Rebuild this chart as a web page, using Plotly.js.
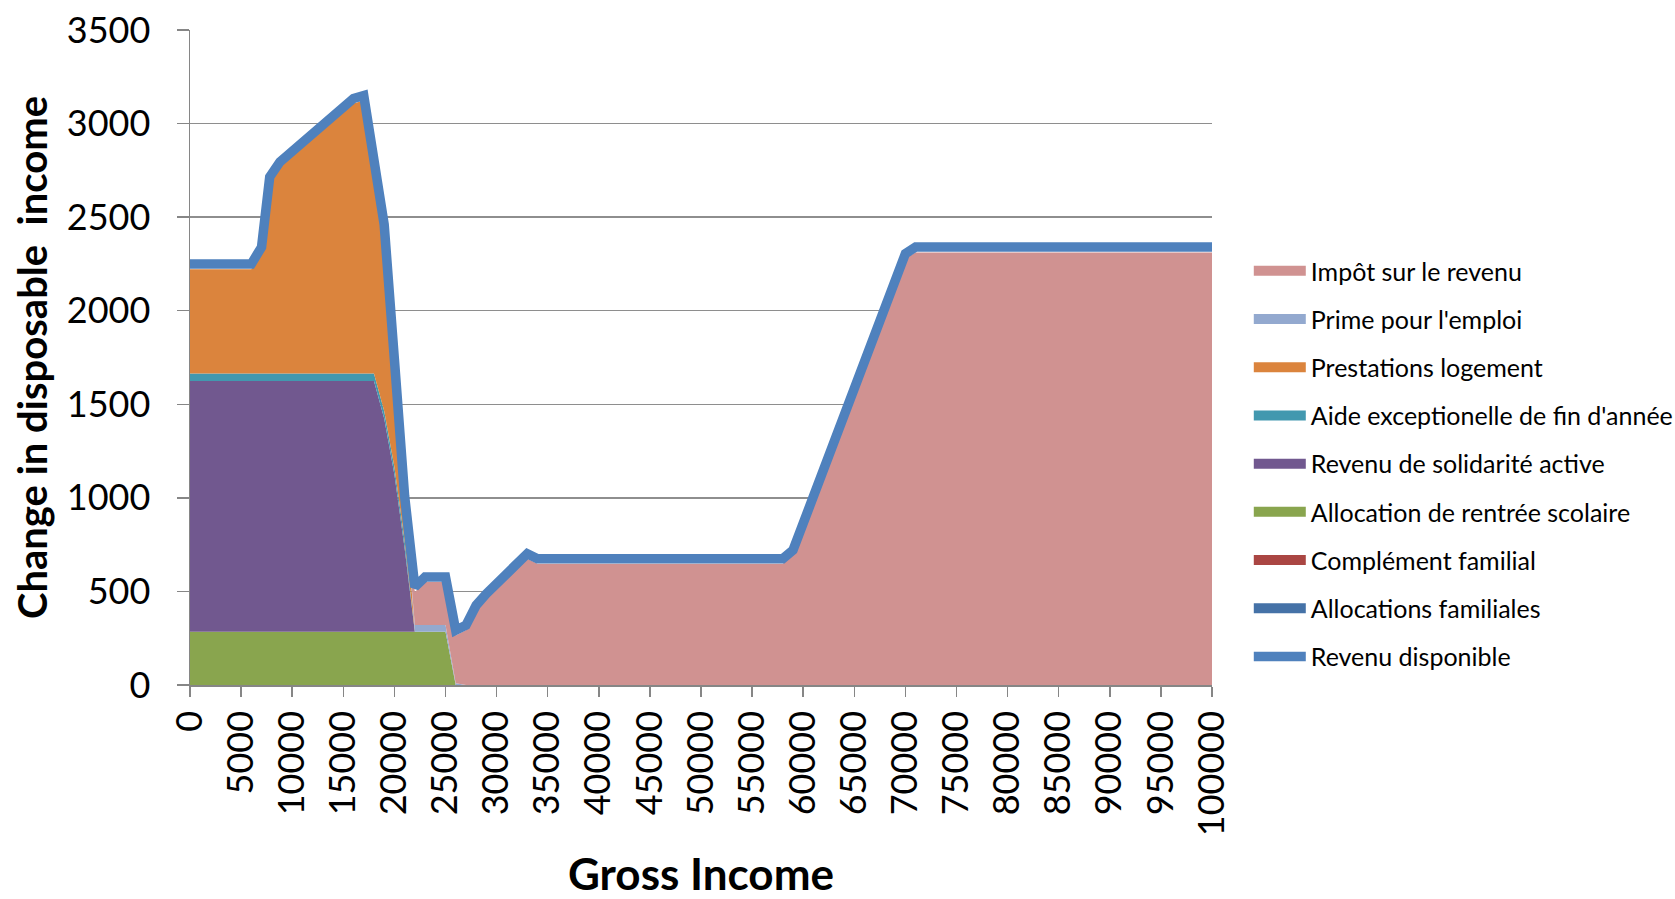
<!DOCTYPE html>
<html>
<head>
<meta charset="utf-8">
<script src="https://cdn.plot.ly/plotly-3.0.1.min.js"></script>
<style>html,body{margin:0;padding:0;background:#fff;}#chart{width:1675px;height:899px;}</style>
</head>
<body>
<div id="chart"></div>
<script>
// Gross income points (x)
const grossIncome = [0, 6000, 7000, 7800, 8800, 16000, 17000, 18000, 19000, 20000, 21000, 22000, 23000, 25000, 26000, 27000, 28000, 29000, 33000, 34000, 58000, 59000, 70000, 71000, 100000];

// Stacked components (bottom to top)
const allocationsFamiliales = [0,0,0,0,0,0,0,0,0,0,0,0,0,0,0,0,0,0,0,0,0,0,0,0,0];
const complementFamilial    = [0,0,0,0,0,0,0,0,0,0,0,0,0,0,0,0,0,0,0,0,0,0,0,0,0];
const allocationRentree     = [285,285,285,285,285,285,285,285,285,285,285,285,285,285,0,0,0,0,0,0,0,0,0,0,0];
const revenuSolidarite      = [1340,1340,1340,1340,1340,1340,1340,1340,1139,840,446,0,0,0,0,0,0,0,0,0,0,0,0,0,0];
const aideExceptionnelle    = [40,40,40,40,40,40,40,40,40,40,40,0,0,0,0,0,0,0,0,0,0,0,0,0,0];
const prestationsLogement   = [557,557,648,1023,1103,1442,1458,1130,969,548,212,0,0,0,0,0,0,0,0,0,0,0,0,0,0];
const primeEmploi           = [0,0,0,0,0,0,0,0,0,0,0,35,35,35,10,0,0,0,0,0,0,0,0,0,0];
const impotRevenu           = [0,0,0,0,0,0,0,0,0,0,0,177,230,230,255,292,399,461,675,648,648,693,2280,2311,2311];

// Line series
const revenuDisponible      = [2250,2250,2340,2715,2795,3134,3150,2822,2460,1740,1010,524,577,577,292,319,426,488,702,675,675,720,2305,2340,2340];

// Tick labels
const xTicks = [0,5000,10000,15000,20000,25000,30000,35000,40000,45000,50000,55000,60000,65000,70000,75000,80000,85000,90000,95000,100000];
const yTicks = [0,500,1000,1500,2000,2500,3000,3500];

const stackSeries = [
  {name:'Allocations familiales', y:allocationsFamiliales, color:'#4572A7'},
  {name:'Complément familial', y:complementFamilial, color:'#AA4643'},
  {name:'Allocation de rentrée scolaire', y:allocationRentree, color:'#89A54E'},
  {name:'Revenu de solidarité active', y:revenuSolidarite, color:'#71588F'},
  {name:"Aide exceptionelle de fin d'année", y:aideExceptionnelle, color:'#4298AF'},
  {name:'Prestations logement', y:prestationsLogement, color:'#DB843D'},
  {name:"Prime pour l'emploi", y:primeEmploi, color:'#93A9CF'},
  {name:'Impôt sur le revenu', y:impotRevenu, color:'#D09291'}
];

const traces = [];
stackSeries.forEach(s => {
  traces.push({
    type:'scatter', mode:'lines', x:grossIncome, y:s.y, stackgroup:'one',
    line:{width:0, color:s.color}, fillcolor:s.color, name:s.name,
    showlegend:false, legendgroup:s.name, hoverinfo:'skip'
  });
});
// legend entries (top of stack first)
stackSeries.slice().reverse().forEach(s => {
  traces.push({
    type:'scatter', mode:'lines', x:[null], y:[null],
    line:{width:15, color:s.color}, name:s.name,
    showlegend:true, legendgroup:s.name, hoverinfo:'skip'
  });
});
traces.push({
  type:'scatter', mode:'lines', x:grossIncome, y:revenuDisponible,
  line:{width:9.5, color:'#4F81BD'}, name:'Revenu disponible',
  legendgroup:'Revenu disponible', showlegend:true, hoverinfo:'skip'
});

const axisGray = '#868686';
const layout = {
  width:1675, height:899,
  margin:{l:190, r:463, t:30, b:214, autoexpand:false},
  paper_bgcolor:'#ffffff', plot_bgcolor:'#ffffff',
  font:{family:'Lato, "Open Sans", sans-serif', color:'#000000'},
  hovermode:false,
  showlegend:true,
  legend:{
    x:1.036, xanchor:'left', y:0.667, yanchor:'top',
    font:{size:25, color:'#000000'}, itemwidth:52,
    tracegroupgap:12.7, traceorder:'grouped', bgcolor:'rgba(0,0,0,0)'
  },
  xaxis:{
    range:[0,100000], tickmode:'array', tickvals:xTicks, ticktext:xTicks.map(String),
    tickangle:-90, ticks:'outside', ticklen:10, tickwidth:1.5, tickcolor:axisGray,
    showline:true, linecolor:axisGray, linewidth:1.5, showgrid:false, zeroline:false,
    tickfont:{size:36, color:'#000000'},
    automargin:false,
    title:{text:'Gross Income', standoff:29, font:{size:44, weight:700, color:'#000000'}}
  },
  yaxis:{
    range:[0,3500], tickmode:'array', tickvals:yTicks, ticktext:yTicks.map(String),
    ticks:'outside', ticklen:12, tickwidth:1.5, tickcolor:axisGray, ticklabelstandoff:19,
    showline:true, linecolor:axisGray, linewidth:1.5,
    showgrid:true, gridcolor:'#8e8e8e', gridwidth:1.3, zeroline:false,
    tickfont:{size:36, color:'#000000'},
    automargin:false,
    title:{text:'Change in disposable  income', standoff:7, font:{size:40, weight:700, color:'#000000'}}
  }
};

Plotly.newPlot('chart', traces, layout, {displayModeBar:false, staticPlot:true});
</script>
</body>
</html>
